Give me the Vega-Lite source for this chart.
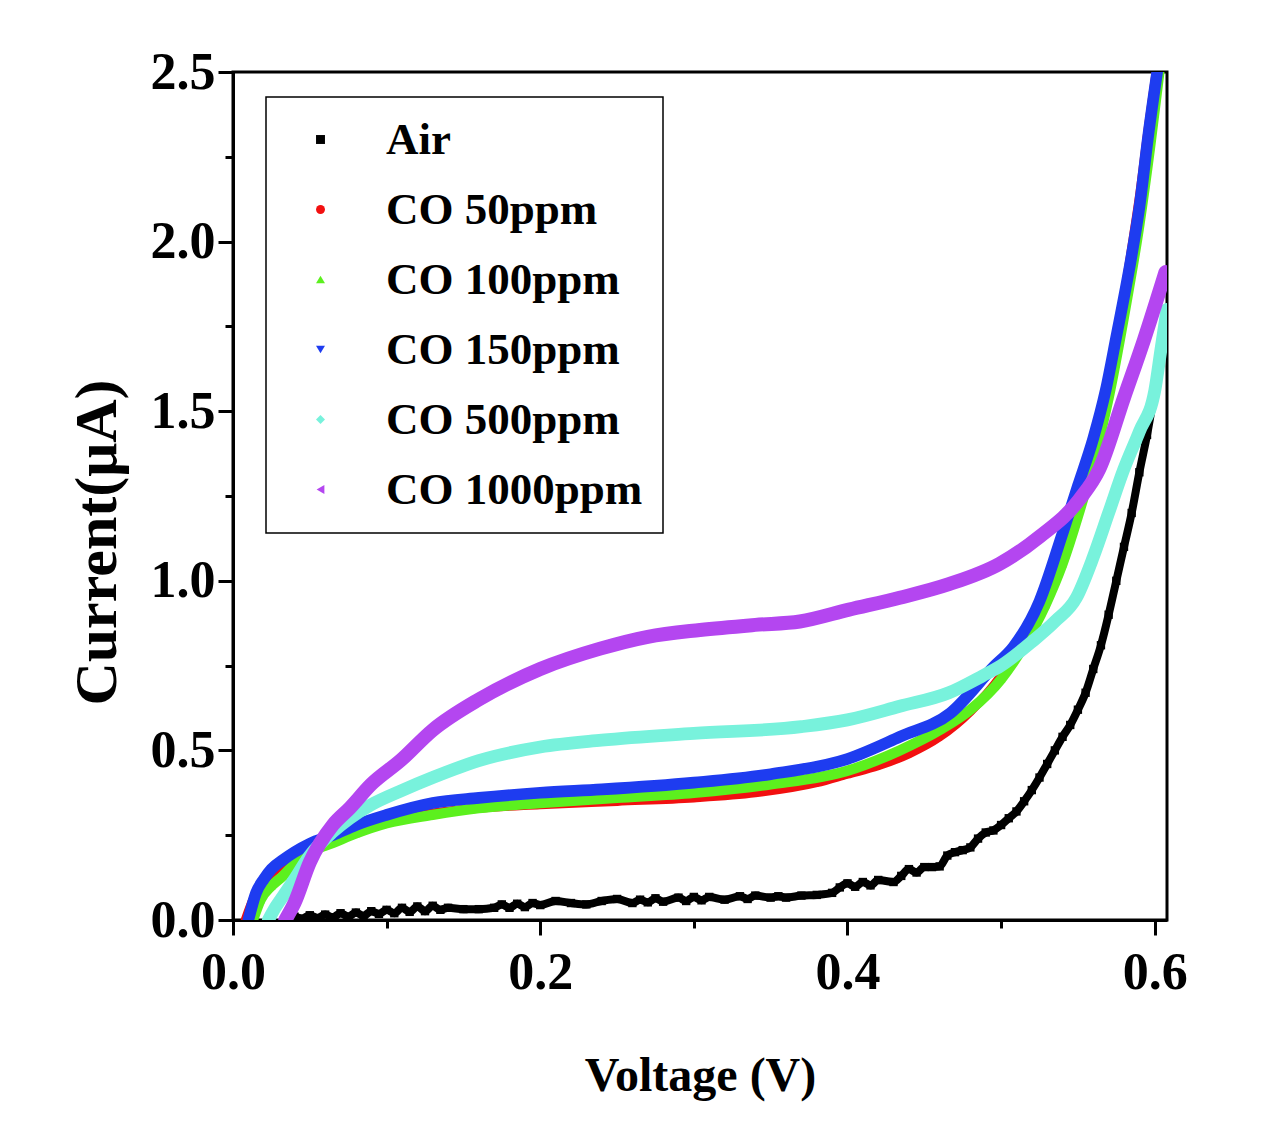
{
  "$schema": "https://vega.github.io/schema/vega-lite/v6.json",
  "autosize": {"type": "none"},
  "padding": {"left": 233, "top": 72, "right": 111, "bottom": 218},
  "width": 934,
  "height": 848,
  "background": "white",
  "data": {"values": [
    {"s":"Air","v":0.035,"i":0},{"s":"Air","v":0.04,"i":0.01},{"s":"Air","v":0.045,"i":0.004},{"s":"Air","v":0.05,"i":0.014},{"s":"Air","v":0.055,"i":0.006},{"s":"Air","v":0.06,"i":0.016},{"s":"Air","v":0.065,"i":0.008},{"s":"Air","v":0.07,"i":0.02},{"s":"Air","v":0.075,"i":0.01},{"s":"Air","v":0.08,"i":0.022},{"s":"Air","v":0.085,"i":0.012},{"s":"Air","v":0.09,"i":0.026},{"s":"Air","v":0.095,"i":0.018},{"s":"Air","v":0.1,"i":0.03},{"s":"Air","v":0.105,"i":0.02},{"s":"Air","v":0.11,"i":0.036},{"s":"Air","v":0.115,"i":0.024},{"s":"Air","v":0.12,"i":0.04},{"s":"Air","v":0.125,"i":0.026},{"s":"Air","v":0.13,"i":0.042},{"s":"Air","v":0.135,"i":0.03},{"s":"Air","v":0.14,"i":0.036},{"s":"Air","v":0.15,"i":0.032},{"s":"Air","v":0.16,"i":0.032},{"s":"Air","v":0.17,"i":0.036},{"s":"Air","v":0.175,"i":0.046},{"s":"Air","v":0.18,"i":0.036},{"s":"Air","v":0.185,"i":0.048},{"s":"Air","v":0.19,"i":0.038},{"s":"Air","v":0.195,"i":0.05},{"s":"Air","v":0.2,"i":0.044},{"s":"Air","v":0.21,"i":0.056},{"s":"Air","v":0.22,"i":0.05},{"s":"Air","v":0.23,"i":0.046},{"s":"Air","v":0.24,"i":0.056},{"s":"Air","v":0.25,"i":0.062},{"s":"Air","v":0.26,"i":0.05},{"s":"Air","v":0.265,"i":0.06},{"s":"Air","v":0.27,"i":0.052},{"s":"Air","v":0.275,"i":0.064},{"s":"Air","v":0.28,"i":0.054},{"s":"Air","v":0.29,"i":0.066},{"s":"Air","v":0.295,"i":0.056},{"s":"Air","v":0.3,"i":0.068},{"s":"Air","v":0.305,"i":0.058},{"s":"Air","v":0.31,"i":0.068},{"s":"Air","v":0.32,"i":0.06},{"s":"Air","v":0.33,"i":0.07},{"s":"Air","v":0.335,"i":0.062},{"s":"Air","v":0.34,"i":0.072},{"s":"Air","v":0.35,"i":0.066},{"s":"Air","v":0.355,"i":0.07},{"s":"Air","v":0.36,"i":0.066},{"s":"Air","v":0.37,"i":0.072},{"s":"Air","v":0.38,"i":0.074},{"s":"Air","v":0.39,"i":0.08},{"s":"Air","v":0.395,"i":0.096},{"s":"Air","v":0.4,"i":0.108},{"s":"Air","v":0.405,"i":0.098},{"s":"Air","v":0.41,"i":0.112},{"s":"Air","v":0.415,"i":0.102},{"s":"Air","v":0.42,"i":0.118},{"s":"Air","v":0.43,"i":0.112},{"s":"Air","v":0.435,"i":0.13},{"s":"Air","v":0.44,"i":0.15},{"s":"Air","v":0.445,"i":0.14},{"s":"Air","v":0.45,"i":0.156},{"s":"Air","v":0.455,"i":0.156},{"s":"Air","v":0.46,"i":0.158},{"s":"Air","v":0.465,"i":0.19},{"s":"Air","v":0.47,"i":0.2},{"s":"Air","v":0.475,"i":0.206},{"s":"Air","v":0.48,"i":0.214},{"s":"Air","v":0.485,"i":0.24},{"s":"Air","v":0.49,"i":0.258},{"s":"Air","v":0.495,"i":0.264},{"s":"Air","v":0.5,"i":0.28},{"s":"Air","v":0.505,"i":0.3},{"s":"Air","v":0.51,"i":0.32},{"s":"Air","v":0.515,"i":0.35},{"s":"Air","v":0.52,"i":0.383},{"s":"Air","v":0.525,"i":0.42},{"s":"Air","v":0.53,"i":0.46},{"s":"Air","v":0.535,"i":0.5},{"s":"Air","v":0.54,"i":0.54},{"s":"Air","v":0.545,"i":0.575},{"s":"Air","v":0.55,"i":0.62},{"s":"Air","v":0.555,"i":0.67},{"s":"Air","v":0.56,"i":0.74},{"s":"Air","v":0.565,"i":0.81},{"s":"Air","v":0.57,"i":0.9},{"s":"Air","v":0.575,"i":1.0},{"s":"Air","v":0.58,"i":1.1},{"s":"Air","v":0.585,"i":1.2},{"s":"Air","v":0.59,"i":1.32},{"s":"Air","v":0.595,"i":1.43},{"s":"Air","v":0.6,"i":1.56},{"s":"Air","v":0.605,"i":1.7},{"s":"Air","v":0.608,"i":1.8},

    {"s":"CO 50ppm","v":0.008,"i":0},{"s":"CO 50ppm","v":0.013,"i":0.06},{"s":"CO 50ppm","v":0.02,"i":0.11},{"s":"CO 50ppm","v":0.026,"i":0.14},{"s":"CO 50ppm","v":0.0325,"i":0.165},{"s":"CO 50ppm","v":0.04,"i":0.19},{"s":"CO 50ppm","v":0.05,"i":0.21},{"s":"CO 50ppm","v":0.065,"i":0.235},{"s":"CO 50ppm","v":0.08,"i":0.26},{"s":"CO 50ppm","v":0.1,"i":0.29},{"s":"CO 50ppm","v":0.13,"i":0.315},{"s":"CO 50ppm","v":0.16,"i":0.33},{"s":"CO 50ppm","v":0.2,"i":0.34},{"s":"CO 50ppm","v":0.25,"i":0.35},{"s":"CO 50ppm","v":0.3,"i":0.36},{"s":"CO 50ppm","v":0.34,"i":0.375},{"s":"CO 50ppm","v":0.38,"i":0.405},{"s":"CO 50ppm","v":0.4,"i":0.43},{"s":"CO 50ppm","v":0.42,"i":0.455},{"s":"CO 50ppm","v":0.44,"i":0.49},{"s":"CO 50ppm","v":0.46,"i":0.54},{"s":"CO 50ppm","v":0.48,"i":0.615},{"s":"CO 50ppm","v":0.5,"i":0.72},{"s":"CO 50ppm","v":0.52,"i":0.87},{"s":"CO 50ppm","v":0.54,"i":1.07},{"s":"CO 50ppm","v":0.55,"i":1.2},{"s":"CO 50ppm","v":0.56,"i":1.36},{"s":"CO 50ppm","v":0.567,"i":1.5},{"s":"CO 50ppm","v":0.575,"i":1.7},{"s":"CO 50ppm","v":0.585,"i":1.98},{"s":"CO 50ppm","v":0.59,"i":2.13},{"s":"CO 50ppm","v":0.596,"i":2.34},{"s":"CO 50ppm","v":0.601,"i":2.5},

    {"s":"CO 100ppm","v":0.013,"i":0},{"s":"CO 100ppm","v":0.018,"i":0.06},{"s":"CO 100ppm","v":0.025,"i":0.1},{"s":"CO 100ppm","v":0.0325,"i":0.13},{"s":"CO 100ppm","v":0.04,"i":0.165},{"s":"CO 100ppm","v":0.05,"i":0.2},{"s":"CO 100ppm","v":0.065,"i":0.227},{"s":"CO 100ppm","v":0.08,"i":0.255},{"s":"CO 100ppm","v":0.1,"i":0.285},{"s":"CO 100ppm","v":0.13,"i":0.31},{"s":"CO 100ppm","v":0.16,"i":0.33},{"s":"CO 100ppm","v":0.2,"i":0.345},{"s":"CO 100ppm","v":0.25,"i":0.36},{"s":"CO 100ppm","v":0.3,"i":0.375},{"s":"CO 100ppm","v":0.35,"i":0.4},{"s":"CO 100ppm","v":0.4,"i":0.44},{"s":"CO 100ppm","v":0.434,"i":0.5},{"s":"CO 100ppm","v":0.46,"i":0.56},{"s":"CO 100ppm","v":0.48,"i":0.62},{"s":"CO 100ppm","v":0.5,"i":0.71},{"s":"CO 100ppm","v":0.515,"i":0.81},{"s":"CO 100ppm","v":0.529,"i":0.93},{"s":"CO 100ppm","v":0.54,"i":1.05},{"s":"CO 100ppm","v":0.55,"i":1.19},{"s":"CO 100ppm","v":0.56,"i":1.35},{"s":"CO 100ppm","v":0.57,"i":1.54},{"s":"CO 100ppm","v":0.58,"i":1.78},{"s":"CO 100ppm","v":0.59,"i":2.05},{"s":"CO 100ppm","v":0.597,"i":2.28},{"s":"CO 100ppm","v":0.603,"i":2.5},

    {"s":"CO 150ppm","v":0.01,"i":0},{"s":"CO 150ppm","v":0.015,"i":0.08},{"s":"CO 150ppm","v":0.02,"i":0.12},{"s":"CO 150ppm","v":0.025,"i":0.15},{"s":"CO 150ppm","v":0.0325,"i":0.177},{"s":"CO 150ppm","v":0.04,"i":0.2},{"s":"CO 150ppm","v":0.05,"i":0.225},{"s":"CO 150ppm","v":0.065,"i":0.25},{"s":"CO 150ppm","v":0.08,"i":0.28},{"s":"CO 150ppm","v":0.1,"i":0.31},{"s":"CO 150ppm","v":0.13,"i":0.345},{"s":"CO 150ppm","v":0.16,"i":0.36},{"s":"CO 150ppm","v":0.2,"i":0.375},{"s":"CO 150ppm","v":0.24,"i":0.385},{"s":"CO 150ppm","v":0.3,"i":0.405},{"s":"CO 150ppm","v":0.35,"i":0.43},{"s":"CO 150ppm","v":0.4,"i":0.475},{"s":"CO 150ppm","v":0.434,"i":0.54},{"s":"CO 150ppm","v":0.467,"i":0.61},{"s":"CO 150ppm","v":0.495,"i":0.746},{"s":"CO 150ppm","v":0.508,"i":0.805},{"s":"CO 150ppm","v":0.525,"i":0.94},{"s":"CO 150ppm","v":0.54,"i":1.14},{"s":"CO 150ppm","v":0.55,"i":1.28},{"s":"CO 150ppm","v":0.56,"i":1.42},{"s":"CO 150ppm","v":0.568,"i":1.56},{"s":"CO 150ppm","v":0.575,"i":1.72},{"s":"CO 150ppm","v":0.585,"i":1.96},{"s":"CO 150ppm","v":0.59,"i":2.1},{"s":"CO 150ppm","v":0.596,"i":2.32},{"s":"CO 150ppm","v":0.6016,"i":2.5},

    {"s":"CO 500ppm","v":0.023,"i":0},{"s":"CO 500ppm","v":0.028,"i":0.04},{"s":"CO 500ppm","v":0.0325,"i":0.07},{"s":"CO 500ppm","v":0.04,"i":0.12},{"s":"CO 500ppm","v":0.05,"i":0.19},{"s":"CO 500ppm","v":0.065,"i":0.26},{"s":"CO 500ppm","v":0.076,"i":0.3},{"s":"CO 500ppm","v":0.09,"i":0.34},{"s":"CO 500ppm","v":0.109,"i":0.38},{"s":"CO 500ppm","v":0.13,"i":0.42},{"s":"CO 500ppm","v":0.16,"i":0.47},{"s":"CO 500ppm","v":0.2,"i":0.51},{"s":"CO 500ppm","v":0.24,"i":0.53},{"s":"CO 500ppm","v":0.3,"i":0.55},{"s":"CO 500ppm","v":0.37,"i":0.57},{"s":"CO 500ppm","v":0.4,"i":0.59},{"s":"CO 500ppm","v":0.434,"i":0.63},{"s":"CO 500ppm","v":0.466,"i":0.67},{"s":"CO 500ppm","v":0.488,"i":0.72},{"s":"CO 500ppm","v":0.5,"i":0.75},{"s":"CO 500ppm","v":0.52,"i":0.82},{"s":"CO 500ppm","v":0.535,"i":0.88},{"s":"CO 500ppm","v":0.549,"i":0.95},{"s":"CO 500ppm","v":0.56,"i":1.07},{"s":"CO 500ppm","v":0.57,"i":1.2},{"s":"CO 500ppm","v":0.58,"i":1.33},{"s":"CO 500ppm","v":0.59,"i":1.44},{"s":"CO 500ppm","v":0.6,"i":1.56},{"s":"CO 500ppm","v":0.604,"i":1.68},{"s":"CO 500ppm","v":0.608,"i":1.8},

    {"s":"CO 1000ppm","v":0.034,"i":0},{"s":"CO 1000ppm","v":0.04,"i":0.05},{"s":"CO 1000ppm","v":0.05,"i":0.17},{"s":"CO 1000ppm","v":0.065,"i":0.28},{"s":"CO 1000ppm","v":0.076,"i":0.33},{"s":"CO 1000ppm","v":0.09,"i":0.4},{"s":"CO 1000ppm","v":0.109,"i":0.47},{"s":"CO 1000ppm","v":0.13,"i":0.56},{"s":"CO 1000ppm","v":0.16,"i":0.65},{"s":"CO 1000ppm","v":0.2,"i":0.74},{"s":"CO 1000ppm","v":0.239,"i":0.8},{"s":"CO 1000ppm","v":0.27,"i":0.835},{"s":"CO 1000ppm","v":0.304,"i":0.855},{"s":"CO 1000ppm","v":0.34,"i":0.87},{"s":"CO 1000ppm","v":0.369,"i":0.88},{"s":"CO 1000ppm","v":0.401,"i":0.915},{"s":"CO 1000ppm","v":0.434,"i":0.95},{"s":"CO 1000ppm","v":0.466,"i":0.99},{"s":"CO 1000ppm","v":0.499,"i":1.05},{"s":"CO 1000ppm","v":0.525,"i":1.13},{"s":"CO 1000ppm","v":0.551,"i":1.24},{"s":"CO 1000ppm","v":0.564,"i":1.33},{"s":"CO 1000ppm","v":0.58,"i":1.54},{"s":"CO 1000ppm","v":0.593,"i":1.71},{"s":"CO 1000ppm","v":0.607,"i":1.91}
  ]},
  "layer": [
    {
      "mark": {"type": "point", "filled": true, "opacity": 1, "size": 70, "clip": true},
      "encoding": {
        "x": {"field": "v", "type": "quantitative", "scale": {"domain": [0, 0.608], "nice": false, "zero": false},
              "axis": {"orient": "bottom", "values": [0, 0.2, 0.4, 0.6], "format": ".1f", "labelPadding": 12, "labelFlush": false, "labelOverlap": false,
                       "title": "Voltage (V)", "titleFontSize": 48, "titleX": 467, "titleY": 170, "titleAlign": "center", "titleBaseline": "alphabetic"}},
        "y": {"field": "i", "type": "quantitative", "scale": {"domain": [0, 2.5], "nice": false, "zero": false},
              "axis": {"orient": "left", "values": [0, 0.5, 1, 1.5, 2, 2.5], "format": ".1f", "labelPadding": 3, "labelFlush": false, "labelOverlap": false,
                       "title": "Current(μA)", "titleFontSize": 60, "titleAngle": -90, "titleX": -118, "titleY": 470, "titleAlign": "center", "titleBaseline": "alphabetic"}},
        "color": {"field": "s", "type": "nominal",
                  "scale": {"domain": ["Air", "CO 50ppm", "CO 100ppm", "CO 150ppm", "CO 500ppm", "CO 1000ppm"],
                            "range": ["#000000", "#f21010", "#5cf01e", "#1e3cf0", "#78f2dc", "#b446f0"]},
                  "legend": {"orient": "none", "legendX": 33, "legendY": 25, "title": null}},
        "shape": {"field": "s", "type": "nominal",
                  "scale": {"domain": ["Air", "CO 50ppm", "CO 100ppm", "CO 150ppm", "CO 500ppm", "CO 1000ppm"],
                            "range": ["square", "circle", "triangle-up", "triangle-down", "diamond", "triangle-left"]},
                  "legend": {"orient": "none", "legendX": 33, "legendY": 25, "title": null}}
      }
    },
    {
      "mark": {"type": "line", "clip": true, "strokeCap": "round", "strokeJoin": "round", "interpolate": "monotone"},
      "encoding": {
        "x": {"field": "v", "type": "quantitative",
              "axis": {"orient": "bottom", "values": [0.1, 0.3, 0.5], "labels": false, "domain": false, "tickSize": 8, "title": null}},
        "y": {"field": "i", "type": "quantitative",
              "axis": {"orient": "left", "values": [0.25, 0.75, 1.25, 1.75, 2.25], "labels": false, "domain": false, "tickSize": 8, "title": null}},
        "color": {"field": "s", "type": "nominal", "legend": null},
        "strokeWidth": {"field": "s", "type": "nominal", "legend": null,
                        "scale": {"domain": ["Air", "CO 50ppm", "CO 100ppm", "CO 150ppm", "CO 500ppm", "CO 1000ppm"], "range": [8, 14, 14, 15, 17, 17]}}
      }
    }
  ],
  "resolve": {"axis": {"x": "independent", "y": "independent"}, "legend": {"color": "independent", "shape": "independent"}},
  "config": {
    "font": "Liberation Serif",
    "view": {"stroke": "black", "strokeWidth": 3},
    "axis": {"domainColor": "black", "domainWidth": 3, "tickColor": "black", "tickWidth": 3, "tickSize": 15, "grid": false,
             "labelFont": "Liberation Serif", "labelFontWeight": "bold", "labelFontSize": 52, "labelColor": "black",
             "titleFont": "Liberation Serif", "titleFontWeight": "bold", "titleColor": "black"},
    "legend": {"labelFont": "Liberation Serif", "labelFontWeight": "bold", "labelFontSize": 45, "labelColor": "black",
               "strokeColor": "black", "strokeWidth": 1.5, "fillColor": "white", "padding": 20, "symbolOffset": 12, "labelOffset": 43,
               "rowPadding": 24, "symbolSize": 80, "symbolStrokeWidth": 0, "labelLimit": 400}
  }
}
